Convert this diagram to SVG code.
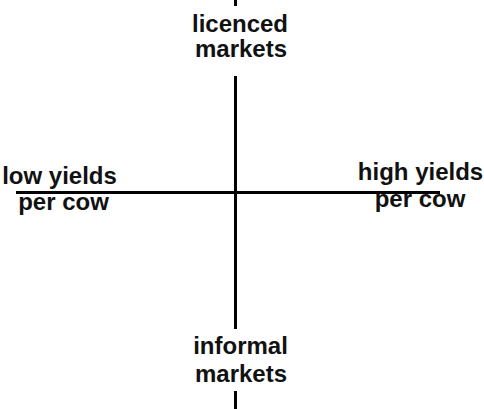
<svg xmlns="http://www.w3.org/2000/svg" width="484" height="409" viewBox="0 0 484 409">
<style>
.ax{stroke:#000;stroke-width:3;fill:none}
.lb{font-family:"Liberation Sans",Arial,sans-serif;font-weight:bold;font-size:24px;fill:#111;text-anchor:middle}
</style>
<rect width="484" height="409" fill="#fff"/>
<g id="connectors">
<line class="ax" x1="235.5" y1="0" x2="235.5" y2="6"/>
<line class="ax" x1="235.5" y1="76" x2="235.5" y2="329"/>
<line class="ax" x1="235.5" y1="391" x2="235.5" y2="409"/>
<line class="ax" x1="16" y1="192.5" x2="440" y2="192.5"/>
</g>
<g id="top"><text class="lb" x="240" y="31.5">licenced</text><text class="lb" x="241" y="56.5">markets</text></g>
<g id="bottom"><text class="lb" x="240.5" y="354">informal</text><text class="lb" x="241" y="381.5">markets</text></g>
<g id="left"><text class="lb" x="59.5" y="183.5">low yields</text><text class="lb" x="63.5" y="210">per cow</text></g>
<g id="right"><text class="lb" x="420.5" y="180">high yields</text><text class="lb" x="420" y="206.5">per cow</text></g>
</svg>
